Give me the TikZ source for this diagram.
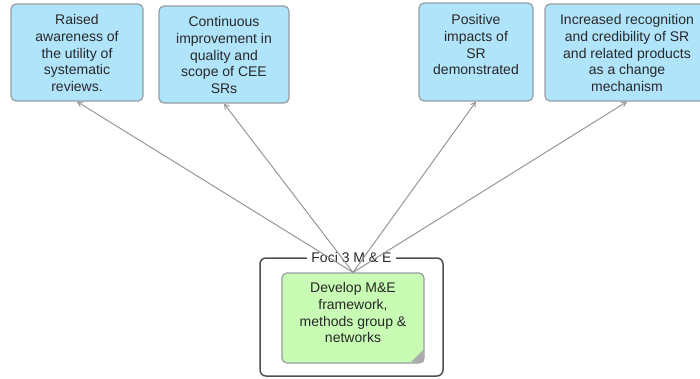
\documentclass[tikz,border=0pt]{standalone}
\usepackage{fontspec}
\setmainfont{Liberation Sans}
\usetikzlibrary{arrows}
\definecolor{outcomeblue}{RGB}{176,228,251}
\definecolor{actiongreen}{RGB}{200,252,180}
\definecolor{boxedge}{RGB}{150,158,162}
\definecolor{framegray}{RGB}{80,80,80}
\definecolor{linkgray}{RGB}{150,150,150}
\definecolor{foldgray}{RGB}{172,172,172}
\definecolor{txt}{RGB}{40,40,40}
\tikzstyle{outcome}=[rectangle,draw=boxedge,fill=outcomeblue,rounded corners=5pt,line width=1.2pt,inner sep=0pt]
\tikzstyle{action}=[rectangle,draw=boxedge,fill=actiongreen,rounded corners=5pt,line width=1.2pt,inner sep=0pt]
\tikzstyle{boxtext}=[anchor=north,align=center,inner sep=0pt,text=txt,font={\fontsize{14}{16.7}\selectfont}]
\tikzstyle{arr}=[->,>=angle 60,draw=linkgray,line width=1pt]

\begin{document}
\begin{tikzpicture}[x=1pt,y=-1pt]
    \useasboundingbox (0,0) rectangle (700,378);
    % outcome boxes along the top
    \node[outcome,minimum width=132pt,minimum height=97pt] (R) at (77,52.5) {};
    \node[outcome,minimum width=130pt,minimum height=97pt] (C) at (224,54.5) {};
    \node[outcome,minimum width=114pt,minimum height=98pt] (P) at (476,52) {};
    \node[outcome,minimum width=164pt,minimum height=97pt] (I) at (627,52.5) {};
    \node[boxtext,yshift=-11pt] (Rt) at (R.north) {Raised\\awareness of\\the utility of\\systematic\\reviews.};
    \node[boxtext,yshift=-11pt] (Ct) at (C.north) {Continuous\\improvement in\\quality and\\scope of CEE\\SRs};
    \node[boxtext,yshift=-12pt] (Pt) at (P.north) {Positive\\impacts of\\SR\\demonstrated};
    \node[boxtext,yshift=-11pt] (It) at (I.north) {Increased recognition\\and credibility of SR\\and related products\\as a change\\mechanism};
    % focus frame with its title sitting on the border
    \node[rectangle,draw=framegray,fill=white,rounded corners=6pt,line width=1.5pt,minimum width=183pt,minimum height=118pt] (F) at (351.5,317) {};
    \node[fill=white,inner xsep=4pt,inner ysep=1pt,text=txt,font={\fontsize{14}{16.7}\selectfont}] (Ft) at (F.north) {Foci 3 M \& E};
    \node[action,minimum width=142pt,minimum height=90pt] (D) at (353,318) {};
    \node[boxtext,yshift=-10pt] (Dt) at (D.north) {Develop M\&E\\framework,\\methods group \&\\networks};
    % folded corner
    \fill[foldgray,rounded corners=1pt] ([xshift=-14pt,yshift=1pt]D.south east) -- ([xshift=-1pt,yshift=14pt]D.south east) -- ([xshift=-1pt,yshift=1pt]D.south east) -- cycle;
    \draw[arr] (D.north) -- (R.south);
    \draw[arr] (D.north) -- (C.south);
    \draw[arr] (D.north) -- (P.south);
    \draw[arr] (D.north) -- (I.south);
\end{tikzpicture}
\end{document}
